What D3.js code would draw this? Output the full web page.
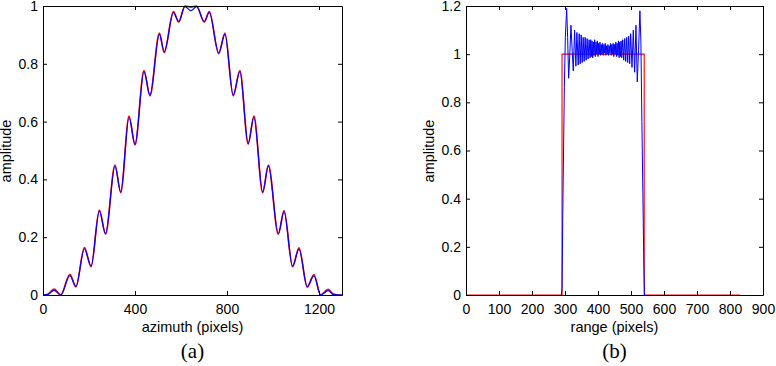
<!DOCTYPE html>
<html>
<head>
<meta charset="utf-8">
<script src="https://cdn.jsdelivr.net/npm/d3@7"></script>
<style>
  body { margin: 0; background: #fff; }
  svg { display: block; }
  .axis path, .axis line { stroke: #000; stroke-width: 1; }
  .axis text { font-family: "Liberation Sans", Arial, sans-serif; font-size: 14px; fill: #000; }
  .label { font-family: "Liberation Sans", Arial, sans-serif; font-size: 14.5px; fill: #000; }
  .caption { font-family: "Liberation Serif", "Times New Roman", serif; font-size: 21px; fill: #000; }
</style>
</head>
<body>
<div class="chart"></div>
<script>
// (a) azimuth profile, [pixel, amplitude]
const azRed = [[0,0],[22,0.003],[48,0.021],[77,0],[117,0.072],[143,0.028],[180,0.164],[209,0.098],[245,0.294],[272,0.21],
  [313,0.45],[338,0.354],[374,0.619],[400,0.519],[439,0.777],[465,0.689],[506,0.906],[527,0.839],[567,0.981],[590,0.945],
  [617,1.0],[643,0.996],[668,1.0],[701,0.945],[723,0.981],[764,0.835],[791,0.906],[827,0.689],[856,0.777],[892,0.522],
  [917,0.619],[955,0.354],[980,0.45],[1023,0.21],[1048,0.292],[1085,0.098],[1113,0.163],[1149,0.027],[1178,0.071],[1207,0],
  [1240,0.02],[1262,0.003],[1290,0],[1300,0]]
const azBlue = [[0,0],[22,0.002],[48,0.016],[77,0],[117,0.067],[143,0.03],[180,0.16],[209,0.1],[245,0.29],[272,0.213],
  [313,0.446],[338,0.357],[374,0.615],[400,0.522],[439,0.773],[465,0.692],[506,0.902],[527,0.842],[567,0.977],[590,0.946],
  [617,0.998],[643,0.984],[668,0.998],[701,0.946],[723,0.977],[764,0.838],[791,0.902],[827,0.692],[856,0.773],[892,0.525],
  [917,0.615],[955,0.357],[980,0.446],[1023,0.213],[1048,0.288],[1085,0.1],[1113,0.159],[1149,0.029],[1178,0.066],[1207,0],
  [1240,0.015],[1262,0.002],[1290,0],[1300,0]]
const azXTicks = [0, 400, 800, 1200]
const azYTicks = [0, 0.2, 0.4, 0.6, 0.8, 1]

// (b) range profile, [pixel, amplitude]
const rgRed = [[0,0],[291,0],[291,1],[540,1],[540,0],[830,0]]
const rgBlue = [[289,0],[291,0.03],[294,0.42],[298,0.86],[301,1.07],[305,1.19],[308,1.07],[311,0.9],[314,0.98],[318,1.12],
  [322,1.01],[325,0.93],[329,1.1],[333,0.95],[336,1.09],[340,0.955],[343,1.085],[346,0.96],[349,1.08],[352,0.965],
  [355,1.07],[358,0.97],[361,1.07],[364,0.975],[367,1.065],[370,0.98],[373,1.06],[376,0.985],[378,1.06],[380,0.99],
  [382,1.055],[384,0.985],[386,1.05],[388,0.995],[390,1.06],[392,0.99],[394,1.05],[396,1.0],[398,1.055],[400,0.99],
  [402,1.045],[404,1.0],[406,1.05],[408,0.995],[410,1.04],[412,1.0],[414,1.045],[416,0.995],[418,1.04],[420,1.005],
  [422,1.045],[424,0.995],[426,1.035],[428,1.0],[430,1.04],[432,0.995],[434,1.035],[436,1.005],[438,1.045],[440,0.995],
  [442,1.04],[444,1.0],[446,1.045],[448,0.99],[450,1.04],[452,1.0],[454,1.05],[456,0.99],[458,1.045],[460,0.995],
  [462,1.055],[464,0.985],[466,1.05],[468,0.99],[470,1.055],[472,0.985],[475,1.06],[478,0.975],[481,1.065],[484,0.97],
  [487,1.07],[490,0.965],[493,1.075],[496,0.96],[499,1.085],[503,0.945],[507,1.1],[511,0.925],[515,1.12],[519,0.885],
  [523,1.02],[527,1.18],[530,1.05],[533,0.72],[536,0.42],[539,0.12],[541,0]]
const rgXTicks = [0, 100, 200, 300, 400, 500, 600, 700, 800, 900]
const rgYTicks = [0, 0.2, 0.4, 0.6, 0.8, 1, 1.2]

const W = 776, H = 366
const svg = d3.select(".chart").append("svg")
  .attr("width", W)
  .attr("height", H)

const fmt = d3.format("~g")

function panel(p) {
  const x = d3.scaleLinear().domain(p.xDomain).range([p.left, p.right])
  const y = d3.scaleLinear().domain(p.yDomain).range([p.bottom, p.top])
  const g = svg.append("g")

  // curves first, frame on top
  p.series.forEach(s => {
    const line = d3.line()
      .x(d => x(d[0]))
      .y(d => y(d[1]))
      .curve(s.curve)
    g.append("path")
      .datum(s.data)
      .attr("fill", "none")
      .attr("stroke", s.color)
      .attr("stroke-width", s.width)
      .attr("stroke-linejoin", "round")
      .attr("d", line)
  })

  g.append("g").attr("class", "axis")
    .attr("transform", `translate(0,${p.bottom})`)
    .call(d3.axisBottom(x).tickValues(p.xTicks).tickFormat(fmt).tickSizeInner(-4).tickSizeOuter(0).tickPadding(9))
  g.append("g").attr("class", "axis")
    .attr("transform", `translate(0,${p.top})`)
    .call(d3.axisTop(x).tickValues(p.xTicks).tickFormat("").tickSizeInner(-4).tickSizeOuter(0))
  g.append("g").attr("class", "axis")
    .attr("transform", `translate(${p.left},0)`)
    .call(d3.axisLeft(y).tickValues(p.yTicks).tickFormat(fmt).tickSizeInner(-4).tickSizeOuter(0).tickPadding(5))
  g.append("g").attr("class", "axis")
    .attr("transform", `translate(${p.right},0)`)
    .call(d3.axisRight(y).tickValues(p.yTicks).tickFormat("").tickSizeInner(-4).tickSizeOuter(0))

  const cx = (p.left + p.right) / 2
  g.append("text").attr("class", "label")
    .attr("x", cx).attr("y", 332)
    .attr("text-anchor", "middle")
    .text(p.xLabel)
  g.append("text").attr("class", "label")
    .attr("transform", `translate(${p.left - 32},151) rotate(-90)`)
    .attr("text-anchor", "middle")
    .text("amplitude")
  g.append("text").attr("class", "caption")
    .attr("x", cx).attr("y", 358)
    .attr("text-anchor", "middle")
    .text(p.caption)
}

panel({
  left: 43, right: 342, top: 6, bottom: 295,
  xDomain: [0, 1300], yDomain: [0, 1],
  xTicks: azXTicks, yTicks: azYTicks,
  xLabel: "azimuth (pixels)", caption: "(a)",
  series: [
    {data: azRed, color: "#ff0000", width: 1.6, curve: d3.curveMonotoneX},
    {data: azBlue, color: "#0000ff", width: 1.2, curve: d3.curveMonotoneX}
  ]
})

panel({
  left: 466, right: 763, top: 6, bottom: 295,
  xDomain: [0, 900], yDomain: [0, 1.2],
  xTicks: rgXTicks, yTicks: rgYTicks,
  xLabel: "range (pixels)", caption: "(b)",
  series: [
    {data: rgRed, color: "#ff0000", width: 1.1, curve: d3.curveLinear},
    {data: rgBlue, color: "#0000ff", width: 1, curve: d3.curveLinear}
  ]
})
</script>
</body>
</html>
